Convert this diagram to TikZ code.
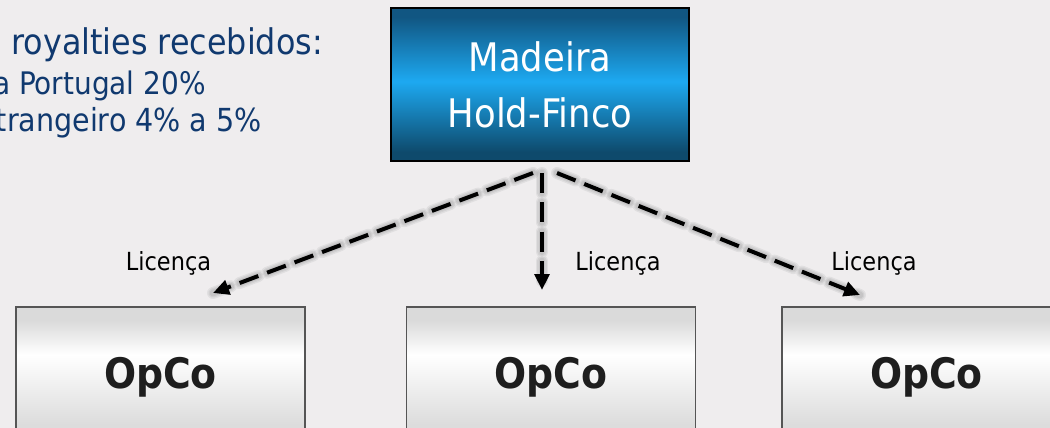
\documentclass[tikz,border=0pt]{standalone}
\usepackage{fontspec}
\setmainfont{DejaVu Sans Condensed}
\usetikzlibrary{arrows.meta}
\definecolor{bg}{HTML}{EFEDEE}
\definecolor{navy}{HTML}{10396F}
\definecolor{hdtop}{HTML}{115682}
\definecolor{hlight}{HTML}{1DA9F1}
\definecolor{hdbot}{HTML}{0E4A6C}
\definecolor{gtop}{HTML}{DADADA}
\definecolor{gbot}{HTML}{DCDCDC}
\definecolor{bordergray}{HTML}{555555}
\definecolor{ink}{HTML}{1E1E1E}
% the path's box is mapped onto the 25bp..75bp band of a shading
\pgfdeclareverticalshading{holdshade}{100bp}{color(0bp)=(hdbot); color(28bp)=(hdbot); color(51bp)=(hlight); color(72bp)=(hdtop); color(100bp)=(hdtop)}
\pgfdeclareverticalshading{opcoshade}{100bp}{color(0bp)=(gbot); color(31bp)=(gbot); color(57bp)=(white); color(70bp)=(gtop); color(100bp)=(gtop)}
\tikzset{
  holdbox/.style={draw=black, line width=1.6pt, shade, shading=holdshade,
    minimum width=223pt, minimum height=115pt, inner sep=0pt,
    align=center, text=white, font=\fontsize{29.5}{42}\selectfont},
  opcobox/.style={draw=bordergray, line width=1.2pt, shade, shading=opcoshade,
    minimum width=216.5pt, minimum height=100pt, inner sep=0pt,
    text=ink, font=\fontsize{31.5}{36}\selectfont\bfseries,
    text height=23pt, text depth=0pt},
  lic/.style={font=\fontsize{18.7}{22}\selectfont, text=black, anchor=base, inner sep=0pt},
  info/.style={text=navy, anchor=base east, inner sep=0pt},
  licarrow/.style={line width=3pt, dash pattern=on 15pt off 7pt,
    -{Triangle[length=12pt,width=11pt]}},
  licshadow/.style={draw=black, opacity=0.06, dash pattern=on 15pt off 7pt, line cap=round}
}
\begin{document}
\begin{tikzpicture}[x=0.75pt,y=-0.75pt]
\useasboundingbox (0,0) rectangle (1050,428);
\clip (0,0) rectangle (1050,428);
\fill[bg] (0,0) rectangle (1050,428);

% info text
\node[info, font=\fontsize{26.5}{30}\selectfont] (t1) at (323,55) {de royalties recebidos:};
\node[info, font=\fontsize{23.3}{28}\selectfont] (t2) at (206,94) {Para Portugal 20\%};
\node[info, font=\fontsize{23.8}{28}\selectfont] (t3) at (262,132) {Estrangeiro 4\% a 5\%};

% boxes
\node[holdbox] (hold) at (540,84.5) {Madeira\\Hold-Finco};
\node[opcobox] (op1) at (160.5,373.5) {OpCo};
\node[opcobox] (op2) at (551,373.5) {OpCo};
\node[opcobox] (op3) at (926.5,373.5) {OpCo};

% labels
\node[lic] (l1) at (168.5,270) {Licença};
\node[lic] (l2) at (618,270) {Licença};
\node[lic] (l3) at (874,270) {Licença};

% connector end points
\coordinate (h1) at (533,173);
\coordinate (h2) at (542,173);
\coordinate (h3) at (557,173);
\coordinate (e1) at (213,293);
\coordinate (e2) at (542,290);
\coordinate (e3) at (860,295);

% soft shadows
\begin{scope}[shift={(4,6)}]
\foreach \w in {9,7,5}{
  \draw[licshadow, line width=\w pt] (h1) -- (e1);
  \draw[licshadow, line width=\w pt] (h2) -- (e2);
  \draw[licshadow, line width=\w pt] (h3) -- (e3);
}
\end{scope}
% arrows
\draw[licarrow] (h1) -- (e1);
\draw[licarrow] (h2) -- (e2);
\draw[licarrow] (h3) -- (e3);
\end{tikzpicture}
\end{document}
